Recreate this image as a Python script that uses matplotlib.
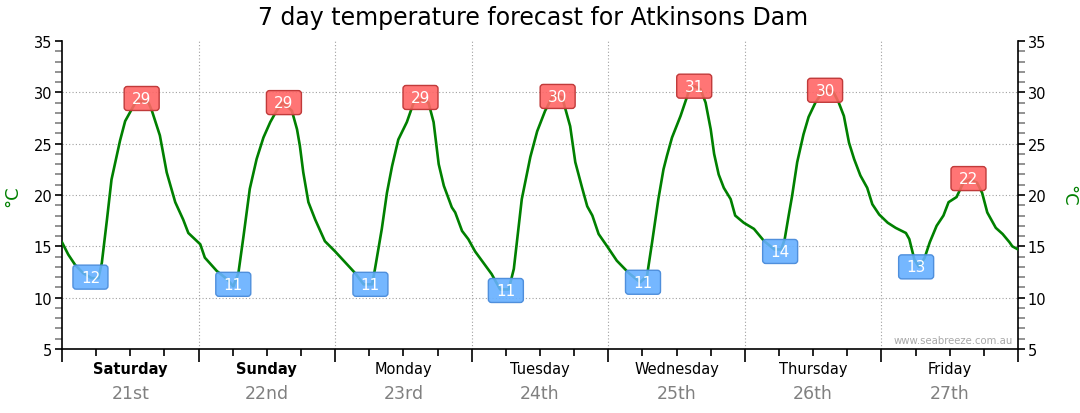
import numpy as np
import matplotlib
matplotlib.use('Agg')
import matplotlib.pyplot as plt
from matplotlib.patches import FancyBboxPatch
import matplotlib.transforms as mtransforms

#===== data (hours from Saturday 00:00, deg C)
hours = [0, 1.1, 2.3, 3.7, 5.2, 6.4, 7.0, 7.9, 8.7, 10.2, 11.1, 12.3, 13.1, 15.2, 15.8,
         17.2, 18.4, 19.9, 21.3, 22.2, 24.3, 25.1, 27.2, 29.0, 30.1, 31.0, 31.9, 33.0,
         34.2, 35.4, 36.6, 37.7, 38.8, 40.4, 41.3, 41.8, 42.4, 43.3, 44.5, 46.2, 48.0,
         51.5, 53.0, 54.5, 55.0, 56.2, 57.1, 58.0, 59.1, 60.6, 61.8, 63.0, 64.4, 65.3,
         66.2, 67.1, 68.5, 69.1, 70.3, 71.4, 72.6, 75.5, 77.0, 78.5, 79.4, 80.2, 80.8,
         82.3, 83.5, 84.9, 86.4, 87.9, 88.4, 89.3, 90.2, 91.4, 92.3, 93.2, 94.3, 95.8,
         97.5, 99.6, 101.6, 102.8, 103.7, 104.8, 105.7, 106.3, 107.2, 108.7, 110.1,
         111.2, 112.2, 113.1, 114.0, 114.6, 115.4, 116.3, 117.5, 118.3, 119.8, 121.6,
         123.4, 125.2, 126.4, 127.0, 127.7, 128.3, 129.2, 130.3, 131.2, 132.4, 133.6,
         134.6, 135.6, 136.5, 137.4, 138.3, 139.2, 140.3, 141.5, 142.4, 143.6, 145.1,
         146.5, 148.3, 148.9, 149.8, 150.6, 151.6, 152.5, 153.7, 154.9, 155.8, 157.2,
         158.4, 159.6, 160.8, 161.7, 162.6, 164.1, 165.3, 166.5, 167.0, 168.0]
temps = [15.4, 14.2, 13.2, 12.4, 11.9, 11.9, 13.4, 17.6, 21.5, 25.3, 27.2, 28.4, 29.2, 29.0, 28.2,
         25.8, 22.2, 19.3, 17.6, 16.3, 15.2, 13.9, 12.6, 11.8, 11.1, 12.4, 16.0, 20.6,
         23.5, 25.6, 27.1, 28.2, 29.0, 28.2, 26.4, 24.8, 22.2, 19.3, 17.6, 15.5, 14.5,
         12.4, 11.3, 11.3, 12.8, 16.7, 20.2, 22.8, 25.4, 27.1, 29.0, 29.3, 29.0, 27.1,
         23.0, 20.9, 18.8, 18.3, 16.5, 15.7, 14.5, 12.3, 10.8, 10.8, 12.8, 16.7, 19.6,
         23.7, 26.2, 28.2, 29.8, 29.5, 28.5, 26.7, 23.2, 20.7, 18.9, 18.0, 16.2, 15.0,
         13.6, 12.4, 11.5, 12.1, 15.4, 19.6, 22.5, 23.8, 25.6, 27.7, 30.0,
         30.6, 30.3, 29.0, 26.4, 24.0, 22.0, 20.7, 19.6, 18.0, 17.3, 16.7,
         15.5, 14.7, 14.7, 15.7, 18.0, 19.9, 23.2, 25.9, 27.6, 29.0, 30.0,
         30.2, 30.0, 29.0, 27.7, 25.1, 23.5, 21.9, 20.7, 19.1, 18.1, 17.3,
         16.8, 16.3, 15.7, 13.7, 13.0, 13.9, 15.4, 17.0, 18.0, 19.3, 19.8,
         21.2, 21.5, 21.2, 20.2, 18.3, 16.8, 16.2, 15.4, 15.0, 14.7]

lab_hours = [5.0, 14.0, 30.1, 39.0, 54.2, 63.0, 78.0, 87.1, 102.1, 111.1, 126.2, 134.1, 150.1, 159.3]
lab_temps = [12.0, 29.4, 11.3, 29.0, 11.3, 29.5, 10.7, 29.6, 11.5, 30.6, 14.5, 30.2, 13.0, 21.6]
lab_text = ['12', '29', '11', '29', '11', '29', '11', '30', '11', '31', '14', '30', '13', '22']
lab_kind = ['min', 'max'] * 7

days = ['Saturday', 'Sunday', 'Monday', 'Tuesday', 'Wednesday', 'Thursday', 'Friday']
dates = ['21st', '22nd', '23rd', '24th', '25th', '26th', '27th']
weekend = [True, True, False, False, False, False, False]

#===== figure
W, H = 1080, 414
DPI = 100
fig = plt.figure(figsize=(W / DPI, H / DPI), dpi=DPI)
ax = fig.add_axes([62 / W, (H - 350) / H, (1018 - 62) / W, (350 - 42) / H])

ax.plot(hours, temps, color='#008000', lw=1.9, zorder=3, solid_joinstyle='round')

ax.set_xlim(0, 168)
ax.set_ylim(5, 35)

# grid
for d in range(1, 7):
    ax.axvline(d * 24, color='#a0a0a0', lw=0.8, ls=(0, (1, 2)), zorder=1)
for v in range(10, 35, 5):
    ax.axhline(v, color='#a0a0a0', lw=0.8, ls=(0, (1, 2)), zorder=1)

# spines / ticks
ax.spines['top'].set_visible(False)
for s in ['left', 'right', 'bottom']:
    ax.spines[s].set_color('black')
    ax.spines[s].set_linewidth(1.2)

ax.set_xticks(np.arange(0, 169, 24))
ax.set_xticks(np.arange(0, 169, 6), minor=True)
ax.set_xticklabels([])
ax.tick_params(axis='x', which='major', length=9, width=1.2, color='black')
ax.tick_params(axis='x', which='minor', length=5, width=1.2, color='black')

ax.set_yticks(np.arange(5, 36, 5))
ax.set_yticks(np.arange(5, 36, 1), minor=True)
ax.yaxis.set_ticks_position('both')
ax.tick_params(axis='y', which='major', length=5, width=1.2, color='black',
               labelsize=10.5, labelleft=True, labelright=True, pad=2)
ax.tick_params(axis='y', which='minor', length=5, width=1.2, color='#808080')

# y labels
fig.text(12 / W, 1 - 196 / H, '°C', color='#008000', fontsize=13, rotation=90,
         ha='center', va='center')
fig.text(1068 / W, 1 - 196 / H, '°C', color='#008000', fontsize=13, rotation=-90,
         ha='center', va='center')

# day labels
trans = mtransforms.blended_transform_factory(ax.transData, ax.transAxes)
for i, (dn, dt) in enumerate(zip(days, dates)):
    xc = i * 24 + 12
    ax.text(xc, -20 / 308, dn, transform=trans, ha='center', va='center',
            fontsize=10.5, fontweight='bold' if weekend[i] else 'normal', color='black')
    ax.text(xc, -44 / 308, dt, transform=trans, ha='center', va='center',
            fontsize=12.5, color='#808080')

# max / min boxes
bw = 35 / (956 / 168.0)
bh = 24 / (308 / 30.0)
asp = (956 / 168.0) / (308 / 30.0)
for h, v, t, k in zip(lab_hours, lab_temps, lab_text, lab_kind):
    if k == 'max':
        fc, ec = (1.0, 0.4, 0.4, 0.9), '#c03a3a'
    else:
        fc, ec = (0.4, 0.69, 1.0, 0.9), '#4f8fdc'
    box = FancyBboxPatch((h - bw / 2, v - bh / 2), bw, bh,
                         boxstyle='round,pad=0,rounding_size=0.55',
                         mutation_aspect=asp, fc=fc, ec=ec, lw=1.0, zorder=4)
    ax.add_patch(box)
    ax.text(h, v, t, ha='center', va='center', color='white', fontsize=11, zorder=5)

ax.text(0.995, 0.03, 'www.seabreeze.com.au', transform=ax.transAxes, ha='right',
        va='center', fontsize=7.3, color='#a8a8a8')

fig.text(533 / W, 1 - 18 / H, '7 day temperature forecast for Atkinsons Dam',
         ha='center', va='center', fontsize=17)

fig.savefig('out.png', dpi=DPI)
